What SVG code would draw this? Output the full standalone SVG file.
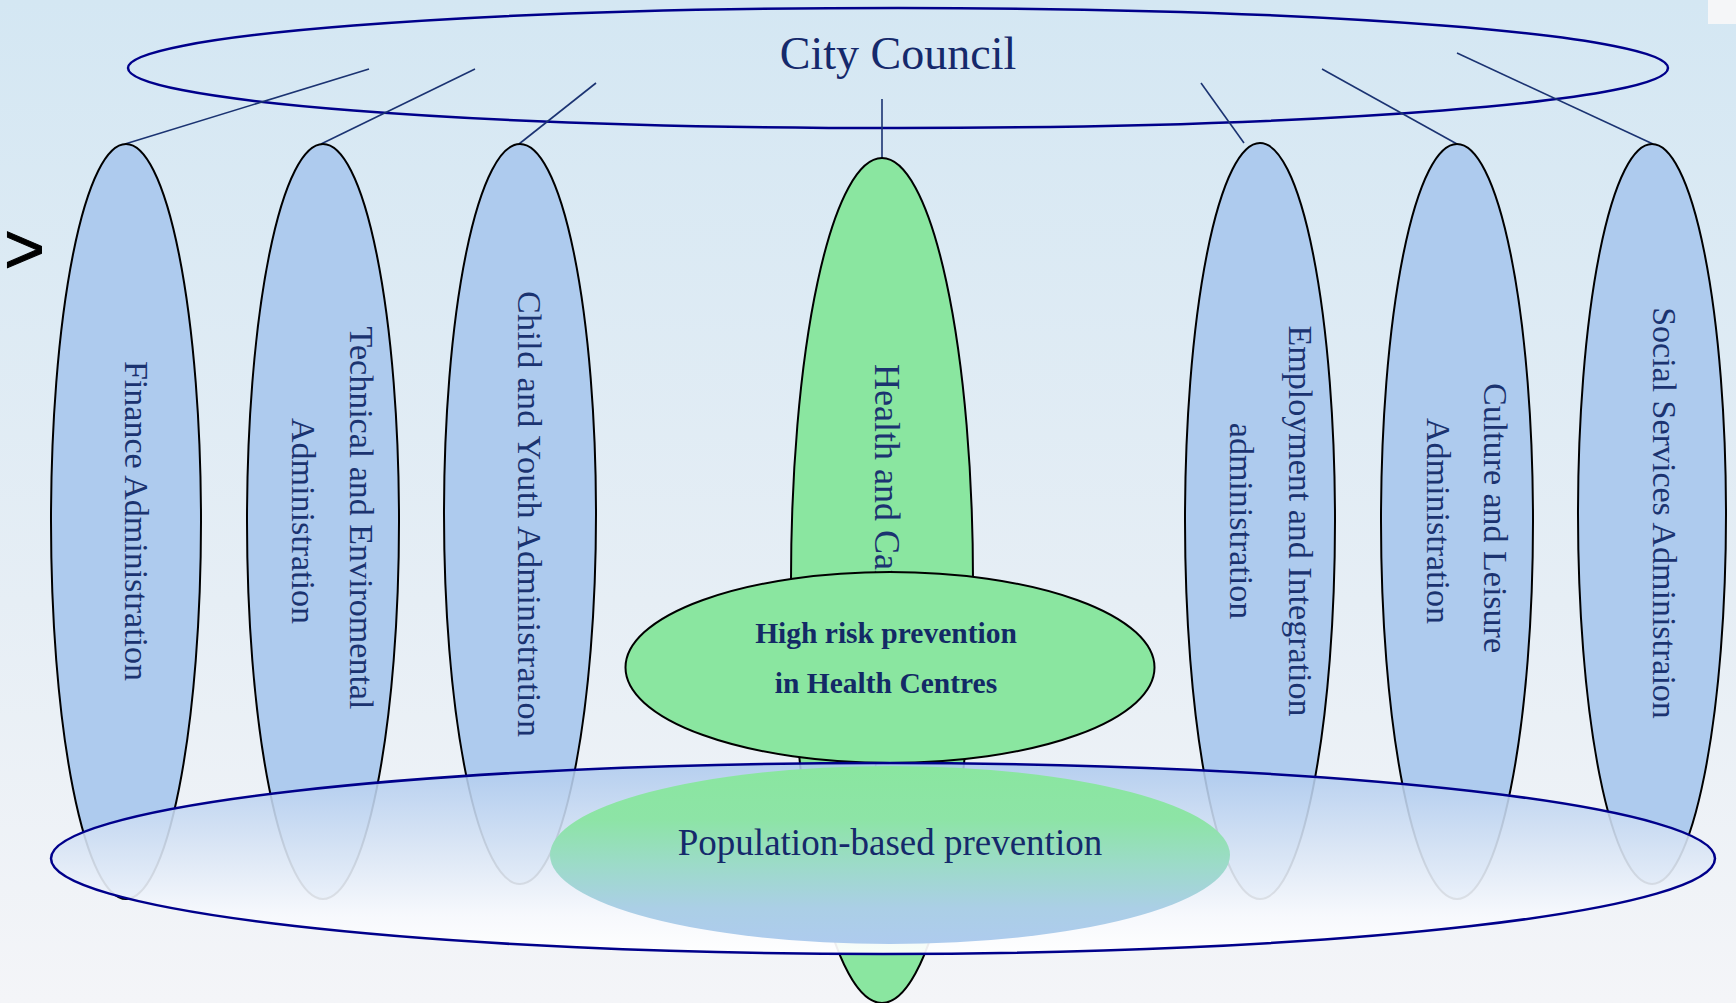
<svg xmlns="http://www.w3.org/2000/svg" width="1736" height="1003" viewBox="0 0 1736 1003">
  <defs>
    <linearGradient id="bg" x1="0" y1="0" x2="0" y2="1">
      <stop offset="0" stop-color="#d4e7f3"/>
      <stop offset="0.6" stop-color="#e6eef5"/>
      <stop offset="1" stop-color="#f4f5f8"/>
    </linearGradient>
    <linearGradient id="baseFill" x1="0" y1="0" x2="0" y2="1">
      <stop offset="0" stop-color="#aecaee" stop-opacity="0.88"/>
      <stop offset="0.45" stop-color="#d9e5f5" stop-opacity="0.9"/>
      <stop offset="0.8" stop-color="#f7f9fd" stop-opacity="0.92"/>
      <stop offset="1" stop-color="#ffffff" stop-opacity="0.94"/>
    </linearGradient>
    <linearGradient id="popFill" x1="0" y1="0" x2="0" y2="1">
      <stop offset="0" stop-color="#8ae6a0"/>
      <stop offset="0.3" stop-color="#8de4a6"/>
      <stop offset="0.55" stop-color="#9cdbc8"/>
      <stop offset="0.8" stop-color="#abcfe6"/>
      <stop offset="1" stop-color="#aecbee"/>
    </linearGradient>
    <style>
      .dept { fill: #aecbee; stroke: #000000; stroke-width: 2; }
      .green { fill: #8ae6a0; stroke: #000000; stroke-width: 2; }
      .ring { fill: none; stroke: #00008b; stroke-width: 2.5; }
      .link { stroke: #1b3372; stroke-width: 1.6; fill: none; }
      .lbl { font-family: "Liberation Serif", "Times New Roman", serif; font-size: 34px; fill: #1b3370; text-anchor: middle; }
      .title { font-family: "Liberation Serif", "Times New Roman", serif; font-size: 46px; fill: #15296b; text-anchor: middle; }
      .bold { font-family: "Liberation Serif", "Times New Roman", serif; font-size: 29.5px; font-weight: bold; fill: #132a66; text-anchor: middle; }
      .pop { font-family: "Liberation Serif", "Times New Roman", serif; font-size: 37px; fill: #15296b; text-anchor: middle; }
    </style>
  </defs>

  <!-- backdrop -->
  <rect x="0" y="0" width="1736" height="1003" fill="url(#bg)"/>
  <rect x="1708" y="0" width="28" height="24" fill="#f5f6f8"/>
  <text x="4" y="273" font-family="Liberation Sans, Arial, sans-serif" font-size="70" fill="#000000" stroke="#000000" stroke-width="1">&gt;</text>

  <!-- council -->
  <g id="city-council">
    <ellipse class="ring" cx="898" cy="68" rx="770" ry="60"/>
    <text class="title" x="898" y="69">City Council</text>
  </g>

  <!-- connectors from the council to each administration -->
  <g id="connectors">
    <line class="link" x1="369" y1="69" x2="125" y2="144"/>
    <line class="link" x1="475" y1="69" x2="321" y2="144"/>
    <line class="link" x1="596" y1="83" x2="519" y2="144"/>
    <line class="link" x1="882" y1="99" x2="882" y2="158"/>
    <line class="link" x1="1201" y1="83" x2="1244" y2="143"/>
    <line class="link" x1="1322" y1="69" x2="1457" y2="144"/>
    <line class="link" x1="1457" y1="53" x2="1653" y2="144"/>
  </g>

  <!-- administrations -->
  <g id="finance">
    <ellipse class="dept" cx="126" cy="521.5" rx="75" ry="377.5"/>
    <text class="lbl" transform="translate(125 521) rotate(90)">Finance Administration</text>
  </g>
  <g id="technical">
    <ellipse class="dept" cx="323" cy="521.5" rx="76" ry="377.5"/>
    <text class="lbl" transform="translate(350 518) rotate(90)">Technical and Enviromental</text>
    <text class="lbl" transform="translate(292 521) rotate(90)">Administration</text>
  </g>
  <g id="child-youth">
    <ellipse class="dept" cx="520" cy="514" rx="76" ry="370"/>
    <text class="lbl" transform="translate(518 514) rotate(90)" textLength="446">Child and Youth Administration</text>
  </g>
  <g id="health-care">
    <ellipse class="green" cx="882" cy="580.5" rx="91" ry="422.5"/>
    <text class="lbl" style="text-anchor:start;font-size:36px" transform="translate(875 364) rotate(90)">Health and Care Administration</text>
  </g>
  <g id="employment">
    <ellipse class="dept" cx="1260" cy="521" rx="75" ry="378"/>
    <text class="lbl" transform="translate(1289 521) rotate(90)">Employment and Integration</text>
    <text class="lbl" transform="translate(1230 521) rotate(90)">administration</text>
  </g>
  <g id="culture">
    <ellipse class="dept" cx="1457" cy="521.5" rx="76" ry="377.5"/>
    <text class="lbl" transform="translate(1484 518) rotate(90)">Culture and Leisure</text>
    <text class="lbl" transform="translate(1427 521) rotate(90)">Administration</text>
  </g>
  <g id="social">
    <ellipse class="dept" cx="1652" cy="514" rx="74" ry="370"/>
    <text class="lbl" transform="translate(1653 513) rotate(90)">Social Services Administraion</text>
  </g>

  <!-- high risk layer -->
  <g id="high-risk">
    <ellipse class="green" cx="890" cy="667.5" rx="264.5" ry="95.5"/>
    <text class="bold" x="886" y="643">High risk prevention</text>
    <text class="bold" x="886" y="693">in Health Centres</text>
  </g>

  <!-- population layer -->
  <g id="population-base">
    <ellipse cx="883" cy="858.5" rx="832" ry="95.5" fill="url(#baseFill)" stroke="#00008b" stroke-width="2.5"/>
  </g>
  <g id="population">
    <ellipse cx="890" cy="855" rx="340" ry="89" fill="url(#popFill)"/>
    <text class="pop" x="890" y="855">Population-based prevention</text>
  </g>
</svg>
